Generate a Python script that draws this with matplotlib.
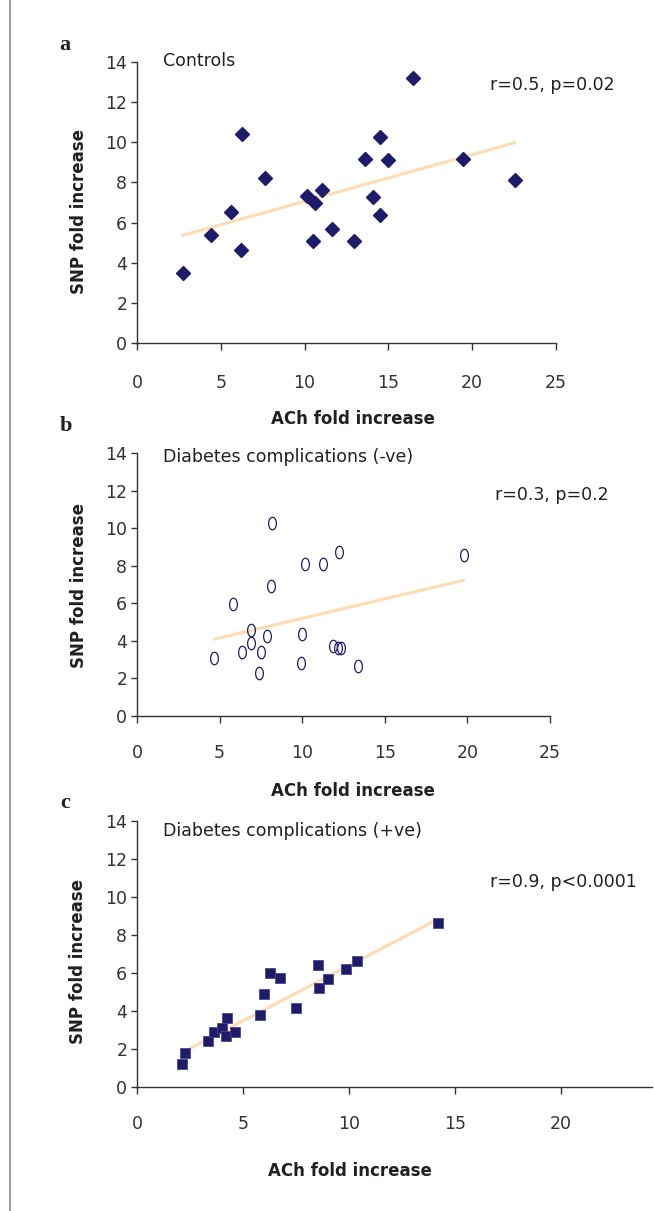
import matplotlib.pyplot as plt
import numpy as np
from matplotlib.lines import Line2D
from matplotlib.path import Path

# panel a: controls
ach_a = [2.72, 4.44, 5.59, 6.21, 6.24, 7.61, 10.13, 10.60, 10.53, 11.03,
         11.63, 12.92, 13.62, 14.10, 14.50, 14.50, 15.0, 16.44, 19.46, 22.58]
snp_a = [3.49, 5.39, 6.55, 4.62, 10.41, 8.23, 7.32, 6.97, 5.09, 7.62,
         5.69, 5.09, 9.18, 7.25, 10.24, 6.39, 9.11, 13.19, 9.15, 8.10]
fit_a_x = [2.72, 22.53]
fit_a_y = [5.36, 9.98]

# panel b: diabetes, complications -ve
ach_b = [4.67, 5.79, 6.35, 6.88, 6.90, 7.39, 7.51, 7.89, 8.10, 8.17,
         9.90, 9.97, 10.18, 11.24, 11.88, 12.21, 12.16, 12.34, 13.38, 19.77]
snp_b = [3.09, 5.94, 3.42, 4.56, 3.89, 2.31, 3.42, 4.24, 6.94, 10.26,
         2.80, 4.36, 8.09, 8.09, 3.74, 8.75, 3.60, 3.60, 2.66, 8.57]
fit_b_x = [4.72, 19.75]
fit_b_y = [4.10, 7.22]

# panel c: diabetes, complications +ve
ach_c = [2.13, 2.25, 3.35, 3.61, 4.00, 4.26, 4.22, 4.64, 5.82, 5.98,
         6.29, 6.73, 7.51, 8.54, 8.58, 8.99, 9.86, 10.39, 14.18]
snp_c = [1.19, 1.81, 2.42, 2.91, 3.12, 3.65, 2.67, 2.88, 3.77, 4.91,
         6.00, 5.74, 4.14, 6.40, 5.19, 5.70, 6.19, 6.63, 8.63]
fit_c_x = [2.25, 14.18]
fit_c_y = [1.88, 8.82]

W, H = 654, 1211
NAVY = '#1f1b6b'
PEACH = '#fddcb2'
TXT = '#231f20'

plt.rcParams['font.family'] = 'DejaVu Sans'

fig = plt.figure(figsize=(W / 100, H / 100), dpi=100)


def fx(px):
    return px / W


def fy(py):
    return 1 - py / H


# tall ellipse used as the open marker in panel b
t = np.linspace(0, 2 * np.pi, 60)
oval = Path(np.column_stack([0.62 * np.sin(t), np.cos(t)]))


def setup(ax, xmax, xticks, pad):
    ax.set_xlim(0, xmax)
    ax.set_ylim(0, 14)
    ax.set_xticks(xticks)
    ax.set_yticks(range(0, 15, 2))
    for s in ['top', 'right']:
        ax.spines[s].set_visible(False)
    for s in ['left', 'bottom']:
        ax.spines[s].set_color('#333333')
        ax.spines[s].set_linewidth(1.0)
    ax.tick_params(axis='x', direction='out', length=5, width=1, pad=pad,
                   labelsize=12.5, colors='#333333')
    ax.tick_params(axis='y', direction='out', length=4, width=1, pad=3,
                   labelsize=12.5, colors='#333333')


panels = [
    # left, top, right, bottom (pixels), xmax, xticks, pad
    (137, 62, 556, 343, 25, range(0, 26, 5), 17),
    (137, 453, 550, 716, 25, range(0, 26, 5), 15),
    (137, 821, 652, 1087, 24.3, range(0, 21, 5), 15),
]

axes = []
for l, tp, r, b, xmax, xt, pad in panels:
    ax = fig.add_axes([fx(l), fy(b), (r - l) / W, (b - tp) / H])
    setup(ax, xmax, xt, pad)
    axes.append(ax)

ax_a, ax_b, ax_c = axes

ax_a.plot(fit_a_x, fit_a_y, color=PEACH, lw=2.2, zorder=2)
ax_a.plot(ach_a, snp_a, 'D', color=NAVY, ms=6.8, mec=NAVY, ls='none',
          zorder=3, clip_on=False)

ax_b.plot(fit_b_x, fit_b_y, color=PEACH, lw=2.2, zorder=2)
ax_b.plot(ach_b, snp_b, marker=oval, ms=9, mfc='none', mec=NAVY, mew=0.9,
          ls='none', zorder=3, clip_on=False)

ax_c.plot(fit_c_x, fit_c_y, color=PEACH, lw=2.2, zorder=2)
ax_c.plot(ach_c, snp_c, 's', color=NAVY, ms=7.8, mec='#4a4690', mew=0.6,
          ls='none', zorder=3, clip_on=False)

# panel letters
for lab, x, y in [('a', 65, 45), ('b', 66, 426), ('c', 65, 803)]:
    fig.text(fx(x), fy(y), lab, family='Liberation Serif', weight='bold',
             fontsize=16, color=TXT, ha='center', va='center')

# group names
for lab, y in [('Controls', 61), ('Diabetes complications (-ve)', 457),
               ('Diabetes complications (+ve)', 831)]:
    fig.text(fx(163), fy(y), lab, fontsize=12.5, color=TXT, ha='left', va='center')

# correlation stats
for lab, x, y in [('r=0.5, p=0.02', 490, 85), ('r=0.3, p=0.2', 495, 495),
                  ('r=0.9, p<0.0001', 490, 882)]:
    fig.text(fx(x), fy(y), lab, fontsize=12.5, color=TXT, ha='left', va='center')

# axis titles
for x, y in [(353, 419), (353, 791), (350, 1171)]:
    fig.text(fx(x), fy(y), 'ACh fold increase', fontsize=12, weight='bold',
             color=TXT, ha='center', va='center')
for x, y in [(79, 212), (79, 585), (78, 962)]:
    fig.text(fx(x), fy(y), 'SNP fold increase', fontsize=12, weight='bold',
             color=TXT, ha='center', va='center', rotation=90)

# page rule on the left
fig.add_artist(Line2D([fx(10), fx(10)], [0, 1], transform=fig.transFigure,
                      color='#8a8a8a', lw=1.2))

fig.savefig('out.png', dpi=100)
